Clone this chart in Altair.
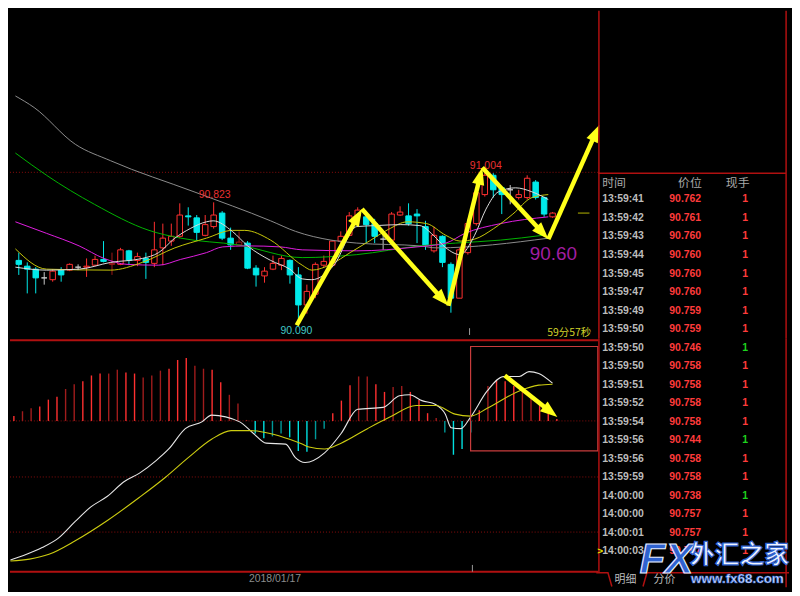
import math
import pandas as pd
import altair as alt

# ---------------- values ----------------
candle_open = [90.471, 90.436, 90.418, 90.365, 90.354, 90.412, 90.412, 90.430, 90.430, 90.442,
               90.477, 90.447, 90.447, 90.529, 90.471, 90.483, 90.453, 90.547, 90.588, 90.617,
               90.741, 90.729, 90.623, 90.676, 90.758, 90.606, 90.565, 90.576, 90.424, 90.377,
               90.418, 90.442, 90.471, 90.383, 90.201, 90.266, 90.442, 90.442, 90.588, 90.623,
               90.741, 90.735, 90.694, 90.600, 90.594, 90.746, 90.741, 90.752, 90.676, 90.529,
               90.617, 90.447, 90.242, 90.518, 90.694, 90.870, 90.987, 90.911, 90.899, 90.852,
               90.852, 90.946, 90.852, 90.735]
candle_high = [90.518, 90.459, 90.430, 90.400, 90.418, 90.430, 90.453, 90.447, 90.483, 90.500,
               90.588, 90.518, 90.547, 90.535, 90.518, 90.518, 90.705, 90.694, 90.694, 90.817,
               90.793, 90.746, 90.746, 90.823, 90.770, 90.670, 90.647, 90.588, 90.442, 90.430,
               90.500, 90.500, 90.477, 90.430, 90.324, 90.459, 90.500, 90.594, 90.647, 90.764,
               90.793, 90.770, 90.723, 90.635, 90.764, 90.799, 90.817, 90.782, 90.711, 90.676,
               90.623, 90.459, 90.547, 90.723, 90.887, 91.004, 91.000, 90.917, 90.928, 90.899,
               90.987, 90.958, 90.858, 90.764]
candle_low = [90.383, 90.271, 90.271, 90.324, 90.342, 90.342, 90.406, 90.412, 90.371, 90.436,
              90.459, 90.383, 90.442, 90.442, 90.436, 90.359, 90.430, 90.442, 90.559, 90.606,
              90.682, 90.588, 90.617, 90.664, 90.594, 90.535, 90.565, 90.418, 90.312, 90.336,
              90.412, 90.412, 90.330, 90.090, 90.148, 90.242, 90.430, 90.430, 90.576, 90.617,
              90.729, 90.576, 90.576, 90.535, 90.576, 90.741, 90.682, 90.576, 90.535, 90.518,
              90.430, 90.154, 90.242, 90.506, 90.682, 90.858, 90.852, 90.752, 90.811, 90.840,
              90.840, 90.840, 90.735, 90.729]
candle_close = [90.447, 90.418, 90.365, 90.365, 90.406, 90.383, 90.447, 90.430, 90.436, 90.477,
                90.465, 90.453, 90.535, 90.471, 90.494, 90.459, 90.535, 90.606, 90.617, 90.746,
                90.735, 90.641, 90.688, 90.746, 90.606, 90.565, 90.582, 90.424, 90.383, 90.406,
                90.453, 90.483, 90.383, 90.201, 90.283, 90.447, 90.465, 90.588, 90.617, 90.741,
                90.776, 90.688, 90.617, 90.600, 90.752, 90.764, 90.694, 90.741, 90.565, 90.623,
                90.459, 90.242, 90.535, 90.694, 90.881, 90.987, 90.899, 90.870, 90.899, 90.870,
                90.969, 90.852, 90.752, 90.758]
dark_candles = [12, 27]
labelled_highs = [24, 56]
labelled_lows = [34]

ma60_x = [0.6, 2.81, 7.67, 11.85, 21.68, 30.72, 33.66, 37.84, 40.89, 48.34, 50.27, 63.55]
ma60_y = [91.468, 91.398, 91.175, 91.075, 90.887, 90.711, 90.647, 90.594, 90.576, 90.559, 90.547, 90.606]
ma30_x = [0.6, 2.47, 4.28, 9.93, 16.37, 20.10, 26.88, 34.45, 40.89, 48.34, 52.53, 57.84, 62.81]
ma30_y = [91.122, 91.052, 90.987, 90.811, 90.653, 90.606, 90.565, 90.488, 90.506, 90.559, 90.576, 90.594, 90.623]
ma20_x = [0.6, 4.28, 8.12, 11.06, 13.77, 17.50, 20.10, 23.15, 25.07, 28.01, 31.85, 34.45, 40.89,
          48.0, 51.40, 53.66, 57.84, 63.49]
ma20_y = [90.705, 90.635, 90.559, 90.483, 90.447, 90.442, 90.477, 90.518, 90.553, 90.559, 90.553,
          90.535, 90.529, 90.553, 90.576, 90.635, 90.694, 90.735]
ma10_x = [0.6, 4.28, 11.85, 15.58, 19.42, 23.15, 26.20, 27.67, 30.72, 34.45, 35.58, 37.84, 40.10,
          42.36, 44.62, 46.88, 49.14, 51.40, 53.09, 54.79, 57.05, 59.31, 61.56, 63.49]
ma10_y = [90.541, 90.418, 90.412, 90.459, 90.547, 90.606, 90.653, 90.653, 90.594, 90.442, 90.412,
          90.447, 90.518, 90.588, 90.659, 90.705, 90.694, 90.623, 90.588, 90.600, 90.664, 90.752,
          90.852, 90.870]
ma5_x = [0.6, 4.28, 8.12, 11.85, 15.58, 17.50, 19.42, 21.23, 23.15, 23.94, 26.20, 28.01, 30.72,
         32.98, 34.45, 35.58, 38.18, 40.89, 43.15, 46.09, 48.34, 49.93, 51.40, 53.09, 54.79, 56.14,
         57.61, 59.64, 61.56, 63.49]
ma5_y = [90.430, 90.412, 90.418, 90.459, 90.483, 90.518, 90.606, 90.664, 90.705, 90.711, 90.647,
         90.559, 90.471, 90.418, 90.359, 90.354, 90.442, 90.676, 90.682, 90.688, 90.682, 90.623,
         90.547, 90.506, 90.623, 90.782, 90.887, 90.911, 90.887, 90.840]

hist_vals = [0.005, 0.010, 0.013, 0.015, 0.022, 0.025, 0.033, 0.038, 0.041, 0.047,
             0.049, 0.049, 0.053, 0.050, 0.049, 0.045, 0.047, 0.052, 0.054, 0.063,
             0.065, 0.057, 0.054, 0.053, 0.040, 0.027, 0.018, 0.001, -0.013, -0.018,
             -0.016, -0.013, -0.017, -0.031, -0.032, -0.019, -0.008, 0.008, 0.021, 0.037,
             0.046, 0.046, 0.038, 0.030, 0.035, 0.036, 0.030, 0.022, 0.008, 0.003,
             -0.012, -0.035, -0.029, -0.012, 0.011, 0.036, 0.042, 0.041, 0.036, 0.031,
             0.027, 0.018, 0.008, 0.002]
hist_kind = ["r", "d", "d", "r", "r", "r", "d", "d", "r", "r",
             "r", "d", "d", "r", "r", "d", "d", "d", "r", "r",
             "r", "d", "d", "r", "r", "d", "d", "d", "c", "c",
             "t", "t", "c", "c", "c", "t", "t", "r", "r", "r",
             "d", "d", "r", "r", "d", "d", "r", "r", "r", "d",
             "t", "c", "c", "c", "r", "d", "r", "r", "r", "d",
             "d", "r", "r", "r"]
dif_x = [0.6, 2.47, 4.28, 6.20, 8.12, 9.93, 11.85, 13.77, 15.58, 17.50, 18.97, 20.89, 22.81, 23.94,
         27.2, 28.80, 30.27, 32.53, 33.66, 34.79, 37.05, 38.97, 40.89, 43.82, 45.75, 46.88, 48.34,
         49.93, 51.06, 51.73, 52.86, 53.99, 55.92, 57.84, 59.64, 60.77, 61.90, 63.49]
dif_y = [-0.144, -0.138, -0.131, -0.121, -0.104, -0.089, -0.078, -0.063, -0.054, -0.041, -0.029,
         -0.008, -0.001, 0.006, -0.001, -0.013, -0.023, -0.024, -0.038, -0.043, -0.033, -0.013,
         0.012, 0.014, 0.026, 0.027, 0.021, 0.017, 0.007, -0.007, -0.008, 0.004, 0.031, 0.046,
         0.046, 0.051, 0.049, 0.039]
dea_x = [0.6, 2.81, 5.07, 8.12, 11.85, 15.58, 18.63, 21.23, 23.94, 26.20, 28.46, 30.72, 32.98,
         34.45, 35.24, 37.05, 38.97, 42.02, 44.62, 47.67, 49.93, 52.19, 53.99, 55.92, 59.64, 61.90, 63.49]
dea_y = [-0.145, -0.143, -0.138, -0.124, -0.103, -0.079, -0.058, -0.038, -0.019, -0.010, -0.010,
         -0.013, -0.019, -0.024, -0.027, -0.029, -0.023, -0.008, 0.004, 0.016, 0.016, 0.007, 0.005,
         0.013, 0.031, 0.037, 0.038]

swing_x = [33.8, 41.5, 51.7, 55.7, 63.5, 69.5]
swing_y = [90.078, 90.782, 90.196, 91.034, 90.600, 91.292]
macd_arrow_x = [57.95, 64.05]
macd_arrow_y = [0.047, 0.004]
target_label = "90.60"
countdown_label = "59分57秒"
date_label = "2018/01/17"
last_price = 90.758

tick_times = ["13:59:41", "13:59:42", "13:59:43", "13:59:44", "13:59:45", "13:59:47", "13:59:49",
              "13:59:50", "13:59:50", "13:59:50", "13:59:51", "13:59:52", "13:59:54", "13:59:56",
              "13:59:56", "13:59:59", "14:00:00", "14:00:00", "14:00:01", "14:00:03"]
tick_prices = [90.762, 90.761, 90.760, 90.760, 90.760, 90.760, 90.759, 90.759, 90.746, 90.758,
               90.758, 90.758, 90.758, 90.744, 90.758, 90.758, 90.738, 90.757, 90.757, 90.757]
tick_vols = [1] * 20
tick_sides = ["B", "B", "B", "B", "B", "B", "B", "B", "S", "B",
              "B", "B", "B", "S", "B", "B", "S", "B", "B", "B"]
table_headers = ["时间", "价位", "现手"]
tab_labels = ["明细", "分价"]
watermark = ["FX", "外汇之家", "www.fx68.com"]

# ---------------- layout / style ----------------
LW, RW, TH, MH = 592, 192, 330, 250
X_DOM = [0.548, 68.80]
TOP_DOM = [89.996, 91.984]
MACD_DOM = [-0.172, 0.085]
R_TOP, R_MID, R_BOT = -10.183, 7.520, 20.940
C_DOM = [0, 196]
NUM = "Liberation Sans"
CJK = "Noto Sans CJK SC"
YEL = "#ffff1a"
RED_LINE = "#b01010"
DOT = "#8a0c0c"
HEAD = "M0,-1L0.72,1L-0.72,1Z"
HEAD_SIZE = 300


def xs(f):
    return alt.X(f, type="quantitative", scale=alt.Scale(domain=X_DOM, nice=False, zero=False), axis=None)


def ty(f):
    return alt.Y(f, type="quantitative", scale=alt.Scale(domain=TOP_DOM, nice=False, zero=False), axis=None)


def my(f):
    return alt.Y(f, type="quantitative", scale=alt.Scale(domain=MACD_DOM, nice=False, zero=False), axis=None)


def rxf(f):
    return alt.X(f, type="quantitative", scale=alt.Scale(domain=C_DOM, nice=False, zero=False), axis=None)


def arrow_tables(xv, yv, px_x, px_y):
    half = math.sqrt(HEAD_SIZE) / 2
    segs, heads = [], []
    for k in range(len(xv) - 1):
        x0, y0, x1, y1 = xv[k], yv[k], xv[k + 1], yv[k + 1]
        dx, dy = (x1 - x0) * px_x, (y1 - y0) * px_y
        t = half / math.hypot(dx, dy)
        cx, cy = x1 - (x1 - x0) * t, y1 - (y1 - y0) * t
        segs += [{"seg": k, "o": 0, "x": x0, "y": y0}, {"seg": k, "o": 1, "x": cx, "y": cy}]
        heads.append({"x": cx, "y": cy, "ang": math.degrees(math.atan2(dx, dy)) % 360})
    return pd.DataFrame(segs), pd.DataFrame(heads)


PX_I = LW / (X_DOM[1] - X_DOM[0])
PX_P = TH / (TOP_DOM[1] - TOP_DOM[0])
PX_V = MH / (MACD_DOM[1] - MACD_DOM[0])

# ---------------- top panel ----------------
idx = list(range(1, len(candle_open) + 1))
kinds = []
for k, (o, c) in enumerate(zip(candle_open, candle_close)):
    if k + 1 in dark_candles:
        kinds.append("dark")
    elif c > o:
        kinds.append("up")
    elif c < o:
        kinds.append("down")
    else:
        kinds.append("doji")
stroke_of = {"up": "#ff3030", "dark": "#a01818", "down": "#00eaea", "doji": "#c8c8c8"}
fill_of = {"up": "#000000", "dark": "#000000", "down": "#00eaea", "doji": "#c8c8c8"}
candles = pd.DataFrame({"i": idx, "open": candle_open, "high": candle_high, "low": candle_low,
                        "close": candle_close, "st": [stroke_of[k] for k in kinds],
                        "fi": [fill_of[k] for k in kinds]})

ma_rows = []
for name, xv, yv, col in [("MA60", ma60_x, ma60_y, "#8c8c8c"), ("MA30", ma30_x, ma30_y, "#00b400"),
                          ("MA20", ma20_x, ma20_y, "#e01ee0"), ("MA10", ma10_x, ma10_y, "#c8c80a"),
                          ("MA5", ma5_x, ma5_y, "#dcdcdc")]:
    for a, b in zip(xv, yv):
        ma_rows.append({"s": name, "i": a, "p": b, "col": col})
ma_df = pd.DataFrame(ma_rows)

grid_top = alt.Chart(pd.DataFrame({"p": [91.005]})).mark_rule(
    color=DOT, strokeDash=[1, 2], strokeWidth=1).encode(y=ty("p"))
wicks = alt.Chart(candles).mark_rule(strokeWidth=1).encode(
    x=xs("i"), y=ty("low"), y2="high", color=alt.Color("st:N", scale=None))
bodies = alt.Chart(candles).mark_bar(size=5.5, strokeWidth=1).encode(
    x=xs("i"), y=ty("open"), y2="close",
    fill=alt.Fill("fi:N", scale=None), stroke=alt.Stroke("st:N", scale=None))
ma_lines = alt.Chart(ma_df).mark_line(strokeWidth=1, interpolate="monotone").encode(
    x=xs("i"), y=ty("p"), detail="s:N", color=alt.Color("col:N", scale=None))

hi_df = pd.DataFrame({"i": [k for k in labelled_highs],
                      "p": [candle_high[k - 1] for k in labelled_highs],
                      "t": [f"{candle_high[k - 1]:.3f}" for k in labelled_highs]})
lo_df = pd.DataFrame({"i": [k for k in labelled_lows],
                      "p": [candle_low[k - 1] for k in labelled_lows],
                      "t": [f"{candle_low[k - 1]:.3f}" for k in labelled_lows]})
hi_text = alt.Chart(hi_df).mark_text(font=NUM, fontSize=10.5, color="#e83030", baseline="bottom", dy=-2, dx=1).encode(
    x=xs("i"), y=ty("p"), text="t:N")
lo_text = alt.Chart(lo_df).mark_text(font=NUM, fontSize=10.5, color="#40c8c8", baseline="top", dy=3, dx=-2).encode(
    x=xs("i"), y=ty("p"), text="t:N")

target = alt.Chart(pd.DataFrame({"i": [swing_x[4]], "p": [swing_y[4]], "t": [target_label]})).mark_text(
    font=NUM, fontSize=19, color="#a21ea2", dx=5, dy=15).encode(x=xs("i"), y=ty("p"), text="t:N")
countdown = alt.Chart(pd.DataFrame({"i": [X_DOM[1]], "p": [90.031], "t": [countdown_label]})).mark_text(
    font=CJK, fontSize=10.5, color="#d2d22a", align="right", dx=-2).encode(x=xs("i"), y=ty("p"), text="t:N")
time_tick_top = alt.Chart(pd.DataFrame({"i": [54.2], "a": [90.060], "b": [90.019]})).mark_rule(
    color="#9a9a9a").encode(x=xs("i"), y=ty("a"), y2="b")
price_marker = alt.Chart(pd.DataFrame({"a": [66.99], "b": [68.35], "p": [last_price]})).mark_rule(
    color="#b4b400", strokeWidth=1).encode(x=xs("a"), x2="b", y=ty("p"))

seg_top, head_top = arrow_tables(swing_x, swing_y, PX_I, PX_P)
arrow_lines = alt.Chart(seg_top).mark_line(color=YEL, strokeWidth=4.5, strokeCap="butt").encode(
    x=xs("x"), y=ty("y"), detail="seg:N", order="o:Q")
arrow_heads = alt.Chart(head_top).mark_point(shape=HEAD, size=HEAD_SIZE, filled=True, color=YEL,
                                             opacity=1, strokeWidth=0).encode(
    x=xs("x"), y=ty("y"), angle=alt.Angle("ang:Q", scale=None))

top = alt.layer(grid_top, wicks, bodies, ma_lines, hi_text, lo_text, time_tick_top, price_marker,
                countdown, arrow_lines, arrow_heads, target).properties(width=LW, height=TH)

# ---------------- MACD panel ----------------
hcol = {"r": "#ff3030", "d": "#a01c1c", "c": "#00e0e0", "t": "#009a9a"}
hist_df = pd.DataFrame({"i": idx, "v": hist_vals, "z": [0.0] * len(idx), "col": [hcol[k] for k in hist_kind]})
lines_df = pd.DataFrame(
    [{"s": "DIF", "i": a, "v": b, "col": "#e6e6e6"} for a, b in zip(dif_x, dif_y)] +
    [{"s": "DEA", "i": a, "v": b, "col": "#cccc10"} for a, b in zip(dea_x, dea_y)])

macd_dots = alt.Chart(pd.DataFrame({"v": [0.0, -0.058, -0.115]})).mark_rule(
    color=DOT, strokeDash=[1, 2]).encode(y=my("v"))
macd_solid = alt.Chart(pd.DataFrame({"v": [0.0835, -0.156]})).mark_rule(
    color=RED_LINE, strokeWidth=2).encode(y=my("v"))
hist = alt.Chart(hist_df).mark_rule(strokeWidth=1.4).encode(
    x=xs("i"), y=my("z"), y2="v", color=alt.Color("col:N", scale=None))
macd_lines = alt.Chart(lines_df).mark_line(strokeWidth=1.1, interpolate="monotone").encode(
    x=xs("i"), y=my("v"), detail="s:N", color=alt.Color("col:N", scale=None))
box = alt.Chart(pd.DataFrame({"a": [53.99], "b": [68.75], "c": [0.077], "d": [-0.031]})).mark_rect(
    fillOpacity=0, stroke="#c83c3c", strokeWidth=1.2).encode(x=xs("a"), x2="b", y=my("c"), y2="d")
seg_m, head_m = arrow_tables(macd_arrow_x, macd_arrow_y, PX_I, PX_V)
m_arrow_line = alt.Chart(seg_m).mark_line(color=YEL, strokeWidth=4.5, strokeCap="butt").encode(
    x=xs("x"), y=my("y"), detail="seg:N", order="o:Q")
m_arrow_head = alt.Chart(head_m).mark_point(shape=HEAD, size=HEAD_SIZE, filled=True, color=YEL,
                                            opacity=1, strokeWidth=0).encode(
    x=xs("x"), y=my("y"), angle=alt.Angle("ang:Q", scale=None))
date_text = alt.Chart(pd.DataFrame({"i": [31.3], "v": [-0.164], "t": [date_label]})).mark_text(
    font=NUM, fontSize=10.5, color="#8c8c8c").encode(x=xs("i"), y=my("v"), text="t:N")
time_tick_m = alt.Chart(pd.DataFrame({"i": [54.2], "a": [-0.149], "b": [-0.156]})).mark_rule(
    color="#9a9a9a").encode(x=xs("i"), y=my("a"), y2="b")

macd = alt.layer(macd_dots, macd_solid, hist, macd_lines, box, m_arrow_line, m_arrow_head,
                 date_text, time_tick_m).properties(width=LW, height=MH)

# ---------------- right panel (tick list), split into the two grid rows ----------------
R_TAB = 20.157
rows = pd.DataFrame({"r": list(range(len(tick_times))), "time": tick_times,
                     "price": [f"{v:.3f}" for v in tick_prices], "vol": [str(v) for v in tick_vols],
                     "vcol": ["#1ed21e" if s == "S" else "#ff3b3b" for s in tick_sides]})
rows["x_t"], rows["x_p"], rows["x_v"] = 4, 73, 151
head_df = pd.DataFrame({"x": [4, 82, 131], "r": [-0.888] * 3, "t": table_headers})
tab_df = pd.DataFrame([
    {"seg": 0, "o": 0, "x": -2, "r": R_TAB}, {"seg": 0, "o": 1, "x": 10, "r": R_TAB},
    {"seg": 0, "o": 2, "x": 14, "r": 20.9},
    {"seg": 1, "o": 0, "x": 46, "r": 20.9}, {"seg": 1, "o": 1, "x": 50, "r": R_TAB},
    {"seg": 1, "o": 2, "x": 196, "r": R_TAB}])


def right_cell(lo, hi, height):
    def ry(f):
        return alt.Y(f, type="quantitative",
                     scale=alt.Scale(domain=[lo, hi], reverse=True, nice=False, zero=False), axis=None)

    def part(df):
        return df[(df["r"] >= lo) & (df["r"] < hi)]

    layers = []
    vl = pd.DataFrame({"x": [0.7, 193.0], "a": [lo, lo], "b": [min(hi, R_TAB), hi]})
    layers.append(alt.Chart(vl).mark_rule(color=RED_LINE, strokeWidth=1.5).encode(
        x=rxf("x"), y=ry("a"), y2="b"))
    hl = part(pd.DataFrame({"a": [0.0], "b": [193.0], "r": [-1.41]}))
    if len(hl):
        layers.append(alt.Chart(hl).mark_rule(color=RED_LINE, strokeWidth=1.5).encode(
            x=rxf("a"), x2="b", y=ry("r")))
    tb = part(tab_df)
    if len(tb):
        layers.append(alt.Chart(tb).mark_line(color=RED_LINE, strokeWidth=1.5).encode(
            x=rxf("x"), y=ry("r"), detail="seg:N", order="o:Q"))
    hd = part(head_df)
    if len(hd):
        layers.append(alt.Chart(hd).mark_text(font=CJK, fontSize=12, color="#a8a8a8", align="left").encode(
            x=rxf("x"), y=ry("r"), text="t:N"))
    rw = part(rows)
    if len(rw):
        layers.append(alt.Chart(rw).mark_text(font=NUM, fontSize=10.5, fontWeight="bold", color="#bcbcbc",
                                              align="left").encode(x=rxf("x_t"), y=ry("r"), text="time:N"))
        layers.append(alt.Chart(rw).mark_text(font=NUM, fontSize=10.5, fontWeight="bold", color="#ff3b3b",
                                              align="left").encode(x=rxf("x_p"), y=ry("r"), text="price:N"))
        layers.append(alt.Chart(rw).mark_text(font=NUM, fontSize=10.5, fontWeight="bold").encode(
            x=rxf("x_v"), y=ry("r"), text="vol:N", color=alt.Color("vcol:N", scale=None)))
    cur = part(pd.DataFrame({"x": [2.0], "r": [19], "t": [">"]}))
    if len(cur):
        layers.append(alt.Chart(cur).mark_text(font=NUM, fontSize=10, color="#e6e600", fontWeight="bold").encode(
            x=rxf("x"), y=ry("r"), text="t:N"))
    tt = part(pd.DataFrame({"x": [28, 68], "r": [20.55, 20.55], "t": tab_labels}))
    if len(tt):
        layers.append(alt.Chart(tt).mark_text(font=CJK, fontSize=11, color="#bdbdbd").encode(
            x=rxf("x"), y=ry("r"), text="t:N"))
    w1 = part(pd.DataFrame({"x": [70], "r": [19.45], "t": [watermark[0]]}))
    if len(w1):
        layers.append(alt.Chart(w1).mark_text(font=NUM, fontSize=42, fontWeight="bold", fontStyle="italic",
                                              fill="#2f62d0", stroke="#e6edff", strokeWidth=1.2).encode(
            x=rxf("x"), y=ry("r"), text="t:N"))
    w2 = part(pd.DataFrame({"x": [145], "r": [19.22], "t": [watermark[1]]}))
    if len(w2):
        layers.append(alt.Chart(w2).mark_text(font=CJK, fontSize=25, fontWeight="bold", fill="#f0f4ff",
                                              stroke="#2f62d0", strokeWidth=1.2).encode(
            x=rxf("x"), y=ry("r"), text="t:N"))
    w3 = part(pd.DataFrame({"x": [143], "r": [20.52], "t": [watermark[2]]}))
    if len(w3):
        layers.append(alt.Chart(w3).mark_text(font=NUM, fontSize=13.5, fontWeight="bold", fill="#dfe7ff",
                                              stroke="#2f62d0", strokeWidth=0.6).encode(
            x=rxf("x"), y=ry("r"), text="t:N"))
    return alt.layer(*layers).properties(width=RW, height=height)


right_top = right_cell(R_TOP, R_MID, TH)
right_bottom = right_cell(R_MID, R_BOT, MH)

chart = alt.concat(top, right_top, macd, right_bottom, columns=2, spacing=0, bounds="flush").properties(
    background="#000000", padding=0).configure_view(stroke=None)

chart.save("out.html", embed_options={"renderer": "svg", "actions": False})
